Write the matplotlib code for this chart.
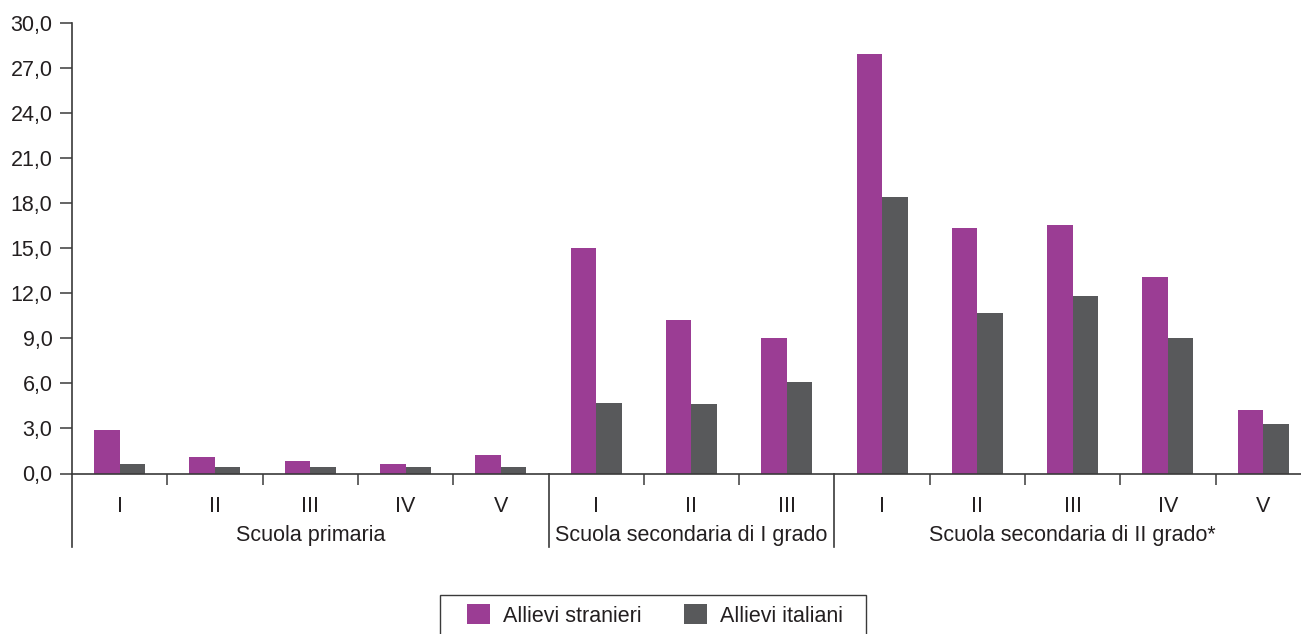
import matplotlib
matplotlib.use("Agg")
import matplotlib.pyplot as plt
from matplotlib.ticker import FixedLocator, FuncFormatter
from matplotlib.patches import Rectangle

plt.rcParams['font.family'] = ['Liberation Sans', 'DejaVu Sans']

# data
categories = ["I", "II", "III", "IV", "V", "I", "II", "III", "I", "II", "III", "IV", "V"]
groups = ["Scuola primaria", "Scuola secondaria di I grado", "Scuola secondaria di II grado*"]
group_sizes = [5, 3, 5]
stranieri = [2.9, 1.1, 0.8, 0.6, 1.2, 15.0, 10.2, 9.0, 27.9, 16.3, 16.5, 13.1, 4.2]
italiani = [0.6, 0.4, 0.4, 0.4, 0.4, 4.7, 4.6, 6.1, 18.4, 10.7, 11.8, 9.0, 3.3]
series_names = ["Allievi stranieri", "Allievi italiani"]
yticks = [0, 3, 6, 9, 12, 15, 18, 21, 24, 27, 30]

PURPLE = "#9B3D94"
GREY = "#58595B"
INK = "#231F20"
LINE = "#3a3a3a"
FS = 15.5

fig = plt.figure(figsize=(13.01, 6.34), dpi=100)
W, H = 1301, 634
ax = fig.add_axes([72 / W, 160.5 / H, 13 * 95.3 / W, 451 / H])

x = list(range(len(categories)))
bw = 0.268
ax.bar([i - bw / 2 for i in x], stranieri, width=bw, color=PURPLE, label=series_names[0])
ax.bar([i + bw / 2 for i in x], italiani, width=bw, color=GREY, label=series_names[1])

ax.set_xlim(-0.5, len(categories) - 0.5)
ax.set_ylim(0, 30)

for s in ["top", "right"]:
    ax.spines[s].set_visible(False)
for s in ["left", "bottom"]:
    ax.spines[s].set_color(LINE)
    ax.spines[s].set_linewidth(1.2)

ax.set_yticks(yticks)
ax.yaxis.set_major_formatter(FuncFormatter(lambda v, p: f"{v:.1f}".replace(".", ",")))
ax.tick_params(axis="y", length=8.6, width=1.1, color=LINE, pad=5.5, labelsize=FS, labelcolor=INK)

# category labels, short separator ticks between categories
ax.set_xticks(x)
ax.set_xticklabels(categories)
ax.tick_params(axis="x", which="major", length=0, pad=16, labelsize=FS, labelcolor=INK)
bounds = []
start = 0
for n in group_sizes:
    bounds.append(start - 0.5)
    start += n
inner = [i - 0.5 for i in range(1, len(categories)) if (i - 0.5) not in bounds]
ax.xaxis.set_minor_locator(FixedLocator(inner))
ax.tick_params(axis="x", which="minor", length=8, width=1.1, color=LINE)

# group separators and group names
trans = ax.get_xaxis_transform()
for b in bounds:
    ax.plot([b, b], [0, -0.162], transform=trans, color=LINE, lw=1.2, clip_on=False)
start = 0
for name, n in zip(groups, group_sizes):
    mid = start + (n - 1) / 2
    ax.text(mid, -0.138, name, transform=trans, ha="center", va="center", fontsize=FS, color=INK)
    start += n

# legend, with a box whose bottom runs off the page as in the reference
leg = fig.legend(loc="center", bbox_to_anchor=(655 / W, 18.5 / H), ncol=2, fontsize=FS,
                 frameon=False, handlelength=1.05, handleheight=1.05, handletextpad=0.6,
                 columnspacing=2.0, labelcolor=INK)
fig.add_artist(Rectangle((440 / W, -10 / H), 426 / W, 49.5 / H, transform=fig.transFigure,
                         fill=False, edgecolor=LINE, lw=1.0))

fig.savefig("out.png", dpi=100)
